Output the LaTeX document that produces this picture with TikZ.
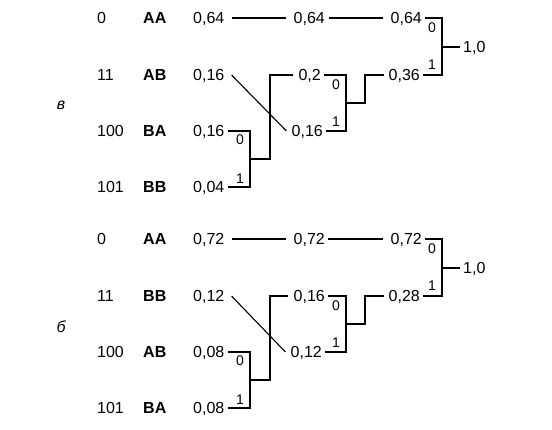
\documentclass[tikz,border=0pt]{standalone}
\usepackage{fontspec}
\setmainfont{Liberation Sans}
\begin{document}
\begin{tikzpicture}[x=1pt,y=-1pt,
  txt/.style={font=\fontsize{16}{18}\selectfont, inner ysep=0pt, inner xsep=3pt, text height=11.5pt, text depth=0pt},
  codetxt/.style={txt, anchor=west},
  lett/.style={txt, anchor=west, font=\fontsize{16}{18}\selectfont\bfseries},
  prob/.style={txt, anchor=west},
  righttxt/.style={txt, anchor=east},
  bit/.style={font=\fontsize{14}{16}\selectfont, inner sep=0pt, text height=10pt, text depth=0pt},
  panel/.style={font=\fontsize{16}{18}\selectfont\itshape, inner sep=0pt},
  conn/.style={line width=1.3pt},
  diag/.style={line width=1.1pt}]
\useasboundingbox (0,0) rectangle (552,430);
% ---------------- panel в ----------------
\node[panel] (aL) at (61,105) {в};
\node[codetxt] (ac1) at (94,18) {0};
\node[codetxt] (ac2) at (94,75) {11};
\node[codetxt] (ac3) at (94,131) {100};
\node[codetxt] (ac4) at (94,187) {101};
\node[lett] (al1) at (140,18) {AA};
\node[lett] (al2) at (140,75) {AB};
\node[lett] (al3) at (140,131) {BA};
\node[lett] (al4) at (140,187) {BB};
\node[prob] (ap1) at (190,18) {0,64};
\node[prob] (ap2) at (190,75) {0,16};
\node[prob] (ap3) at (190,131) {0,16};
\node[prob] (ap4) at (190,187) {0,04};
\node[righttxt] (am1) at (328,18) {0,64};
\node[righttxt] (am2) at (324,75) {0,2};
\node[righttxt] (am3) at (326,131) {0,16};
\node[righttxt] (ar1) at (425,18) {0,64};
\node[righttxt] (ar2) at (423,75) {0,36};
\node[prob] (aroot) at (460,47) {1,0};
\coordinate (ac1b) at (250,159);
\coordinate (ac2b) at (346,103);
\coordinate (ac3b) at (442,47);
\draw[conn] ([xshift=4pt]ap1.east) -- ([xshift=-4pt]am1.west);
\draw[conn] ([xshift=1pt]am1.east) -- ([xshift=-4pt]ar1.west);
\draw[diag] ([xshift=4pt]ap2.east) -- ([xshift=-2pt]am3.west);
\draw[conn] (ap3.east) -- (ap3.east -| ac1b) -- (ap4.east -| ac1b) -- (ap4.east);
\draw[conn] (ac1b) -- ++(20,0) |- ([xshift=-2pt]am2.west);
\draw[conn] (am2.east) -- (am2.east -| ac2b) -- (am3.east -| ac2b) -- (am3.east);
\draw[conn] (ac2b) -- ++(19,0) |- ([xshift=-1pt]ar2.west);
\draw[conn] (ar1.east) -- (ar1.east -| ac3b) -- (ar2.east -| ac3b) -- (ar2.east);
\draw[conn] (ac3b) -- (aroot.west);
\node[bit] (ab10) at (240,140) {0};
\node[bit] (ab11) at (240,179) {1};
\node[bit] (ab20) at (336,85) {0};
\node[bit] (ab21) at (336,122) {1};
\node[bit] (ab30) at (432,28) {0};
\node[bit] (ab31) at (432,65) {1};
% ---------------- panel б ----------------
\begin{scope}[shift={(0,221)}]
\node[panel] (bL) at (61,106) {б};
\node[codetxt] (bc1) at (94,18) {0};
\node[codetxt] (bc2) at (94,75) {11};
\node[codetxt] (bc3) at (94,131) {100};
\node[codetxt] (bc4) at (94,187) {101};
\node[lett] (bl1) at (140,18) {AA};
\node[lett] (bl2) at (140,75) {BB};
\node[lett] (bl3) at (140,131) {AB};
\node[lett] (bl4) at (140,187) {BA};
\node[prob] (bp1) at (190,18) {0,72};
\node[prob] (bp2) at (190,75) {0,12};
\node[prob] (bp3) at (190,131) {0,08};
\node[prob] (bp4) at (190,187) {0,08};
\node[righttxt] (bm1) at (328,18) {0,72};
\node[righttxt] (bm2) at (328,75) {0,16};
\node[righttxt] (bm3) at (325,131) {0,12};
\node[righttxt] (br1) at (425,18) {0,72};
\node[righttxt] (br2) at (423,75) {0,28};
\node[prob] (broot) at (460,47) {1,0};
\coordinate (bc1b) at (250,159);
\coordinate (bc2b) at (346,103);
\coordinate (bc3b) at (442,47);
\draw[conn] ([xshift=4pt]bp1.east) -- ([xshift=-4pt]bm1.west);
\draw[conn] (bm1.east) -- ([xshift=-4pt]br1.west);
\draw[diag] ([xshift=4pt]bp2.east) -- ([xshift=-2pt]bm3.west);
\draw[conn] (bp3.east) -- (bp3.east -| bc1b) -- (bp4.east -| bc1b) -- (bp4.east);
\draw[conn] (bc1b) -- ++(20,0) |- ([xshift=-2pt]bm2.west);
\draw[conn] (bm2.east) -- (bm2.east -| bc2b) -- (bm3.east -| bc2b) -- (bm3.east);
\draw[conn] (bc2b) -- ++(19,0) |- ([xshift=-1pt]br2.west);
\draw[conn] (br1.east) -- (br1.east -| bc3b) -- (br2.east -| bc3b) -- (br2.east);
\draw[conn] (bc3b) -- (broot.west);
\node[bit] (bb10) at (240,140) {0};
\node[bit] (bb11) at (240,179) {1};
\node[bit] (bb20) at (336,85) {0};
\node[bit] (bb21) at (336,122) {1};
\node[bit] (bb30) at (432,28) {0};
\node[bit] (bb31) at (432,65) {1};
\end{scope}
\end{tikzpicture}
\end{document}
